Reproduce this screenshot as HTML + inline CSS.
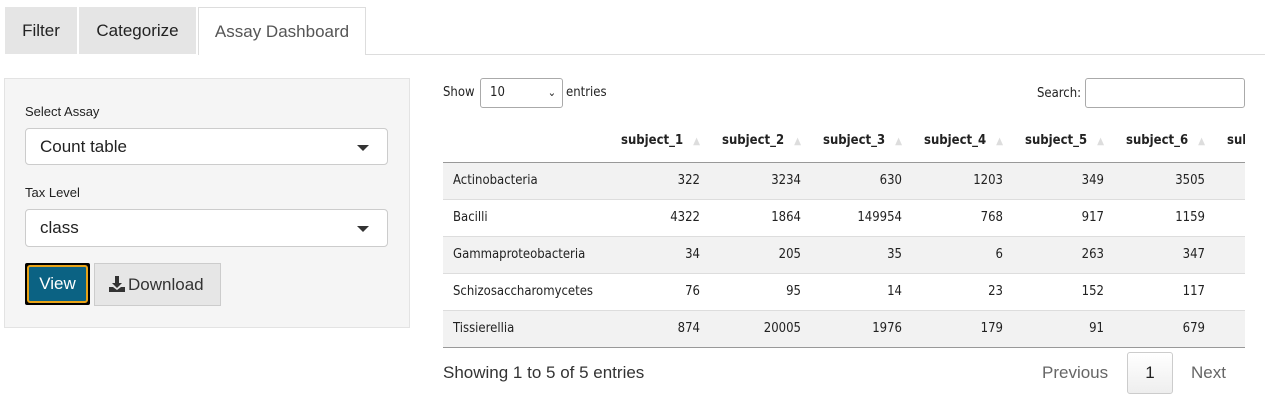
<!DOCTYPE html>
<html><head><meta charset="utf-8">
<style>
*{box-sizing:border-box;margin:0;padding:0}
body{width:1265px;height:400px;background:#fff;font-family:"Liberation Sans",sans-serif;color:#222;position:relative;overflow:hidden}
.a{position:absolute}
.tab{position:absolute;top:7px;height:47px;font-size:17px;line-height:47px;text-align:center;background:#e5e5e5;color:#222}
.n{font-family:"Liberation Sans Narrow","DejaVu Sans Condensed",sans-serif;font-size:13px}
.sel{position:absolute;left:25px;width:363px;background:#fff;border:1px solid #ccc;border-radius:4px;font-size:17px;padding-left:14px}
.caret{position:absolute;right:18px;top:16px;width:0;height:0;border-left:6px solid transparent;border-right:6px solid transparent;border-top:6px solid #333}
.row{position:absolute;left:443px;width:802px;height:37px;border-top:1px solid #ddd;overflow:hidden}
.cell{position:absolute;top:0;height:36px;line-height:36px;text-align:right}
</style></head><body>
<div class="tab" style="left:5px;width:72px">Filter</div>
<div class="tab" style="left:79px;width:117px">Categorize</div>
<div class="tab" style="left:198px;width:168px;background:#fff;border:1px solid #ddd;border-bottom:none;height:48px;color:#555">Assay Dashboard</div>
<div class="a" style="left:366px;top:54px;width:899px;height:1px;background:#ddd"></div>

<div class="a" style="left:4px;top:78px;width:406px;height:250px;background:#f5f5f5;border:1px solid #e3e3e3"></div>
<div class="a" style="left:25px;top:104px;font-size:13px">Select Assay</div>
<div class="sel" style="top:128px;height:37px;line-height:35px">Count table<span class="caret"></span></div>
<div class="a" style="left:25px;top:185px;font-size:13px">Tax Level</div>
<div class="sel" style="top:209px;height:38px;line-height:36px">class<span class="caret"></span></div>
<div class="a" style="left:25px;top:263px;width:65px;height:42px;background:#000;padding:2px;border-radius:2px"><div style="width:100%;height:100%;background:#0b6283;border:2px solid #e8a317;border-radius:3px;color:#fff;font-size:17px;line-height:34px;text-align:center">View</div></div>
<div class="a" style="left:94px;top:263px;width:127px;height:43px;background:#e6e6e6;border:1px solid #ccc;font-size:17px;line-height:41px;padding-left:33px;color:#333">Download
<svg class="a" style="left:13px;top:12px" width="18" height="17" viewBox="0 0 18 17"><path d="M7 0h4v7h3l-5 5-5-5h3z" fill="#333"/><path d="M1 11h4l4 3 4-3h4v5H1z" fill="#333"/></svg></div>

<div class="a n" style="left:443px;top:85px">Show</div>
<div class="a n" style="left:480px;top:78px;width:83px;height:30px;border:1px solid #aaa;border-radius:3px;line-height:28px;padding-left:9px;background:#fff">10<span style="position:absolute;right:6px;top:0;font-size:11px">&#8964;</span></div>
<div class="a n" style="left:566px;top:85px">entries</div>
<div class="a n" style="left:1037px;top:86px">Search:</div>
<div class="a" style="left:1085px;top:78px;width:160px;height:30px;border:1px solid #aaa;border-radius:3px;background:#fff"></div>

<div id="tbl"></div>
<div class="a" style="left:443px;top:347px;width:802px;height:1px;background:#999"></div>
<div class="a" style="left:443px;top:363px;font-size:17px;color:#333">Showing 1 to 5 of 5 entries</div>
<div class="a" style="left:1042px;top:363px;font-size:17px;color:#666">Previous</div>
<div class="a" style="left:1127px;top:352px;width:46px;height:42px;border:1px solid #ccc;border-radius:3px;background:linear-gradient(#fff,#eee);font-size:17px;line-height:40px;text-align:center">1</div>
<div class="a" style="left:1191px;top:363px;font-size:17px;color:#666">Next</div>

<script>
const headers=["subject_1","subject_2","subject_3","subject_4","subject_5","subject_6","subject_7"];
const taxa=["Actinobacteria","Bacilli","Gammaproteobacteria","Schizosaccharomycetes","Tissierellia"];
const s1=[322,4322,34,76,874];
const s2=[3234,1864,205,95,20005];
const s3=[630,149954,35,14,1976];
const s4=[1203,768,6,23,179];
const s5=[349,917,263,152,91];
const s6=[3505,1159,347,117,679];
const cols=[s1,s2,s3,s4,s5,s6];
const tbl=document.getElementById('tbl');
const colL=c=>610+c*101;
const hdr=document.createElement('div');
hdr.className='a n';
hdr.style.cssText='left:443px;top:122px;width:802px;height:40px;overflow:hidden';


headers.forEach((h,c)=>{
  const d=document.createElement('div');
  d.className='a';
  d.style.cssText=`left:${colL(c)-443+11}px;top:11px;font-weight:bold;white-space:nowrap`;
  d.innerHTML=h+(c<6?'<span style="color:#ddd;font-size:10px;margin-left:10px">&#9650;&#xFE0E;</span>':'');
  
  
  hdr.appendChild(d);
});
tbl.appendChild(hdr);
taxa.forEach((t,r)=>{
  const row=document.createElement('div');
  row.className='row n';
  row.style.top=(162+r*37)+'px';
  if(r==0)row.style.borderTop='1px solid #999';
  row.style.background=r%2==0?'#f2f2f2':'#fff';
  
  
  const n=document.createElement('div');
  n.className='cell';
  n.style.cssText='left:10px;text-align:left';
  n.textContent=t;
  
  
  row.appendChild(n);
  cols.forEach((col,c)=>{
    const d=document.createElement('div');
    d.className='cell';
    d.style.left=(colL(c)-443)+'px';
    d.style.width='90px';
    d.textContent=col[r];
    
    
    row.appendChild(d);
  });
  tbl.appendChild(row);
});
</script>
</body></html>
